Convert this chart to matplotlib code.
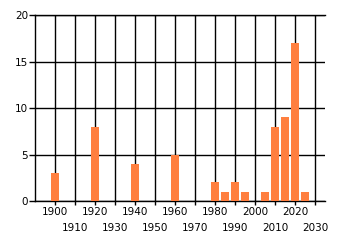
import matplotlib
matplotlib.use("Agg")
import matplotlib.pyplot as plt

years = [1900, 1920, 1940, 1960, 1980, 1985, 1990, 1995, 2005, 2010, 2015, 2020, 2025]
counts = [3, 8, 4, 5, 2, 1, 2, 1, 1, 8, 9, 17, 1]
upper_labels = [1900, 1920, 1940, 1960, 1980, 2000, 2020]
lower_labels = [1910, 1930, 1950, 1970, 1990, 2010, 2030]
y_ticks = [0, 5, 10, 15, 20]

fig = plt.figure(figsize=(3.4, 2.45), dpi=100)
ax = fig.add_axes([35 / 340, 44 / 245, 290 / 340, 186 / 245])

ax.bar(years, counts, width=4, color="#ff7f3f", zorder=3)

ax.set_xlim(1890, 2035)
ax.set_ylim(0, 20)
ax.set_yticks(y_ticks)
ax.set_xticks(upper_labels)
ax.set_xticks(lower_labels, minor=True)
ax.set_xticklabels([str(y) for y in upper_labels])
ax.set_xticklabels([str(y) for y in lower_labels], minor=True)

ax.grid(True, which="both", color="black", linewidth=1, zorder=1)
ax.set_axisbelow(True)

ax.tick_params(axis="x", which="major", length=3, width=1, pad=1, labelsize=7.5)
ax.tick_params(axis="x", which="minor", length=3, width=1, pad=12.5, labelsize=7.5)
ax.tick_params(axis="y", length=4, width=1, pad=1, labelsize=7.5)

for side in ["left", "top", "bottom"]:
    ax.spines[side].set_color("black")
    ax.spines[side].set_linewidth(1)
ax.spines["right"].set_visible(False)

fig.savefig("out.png", dpi=100)
